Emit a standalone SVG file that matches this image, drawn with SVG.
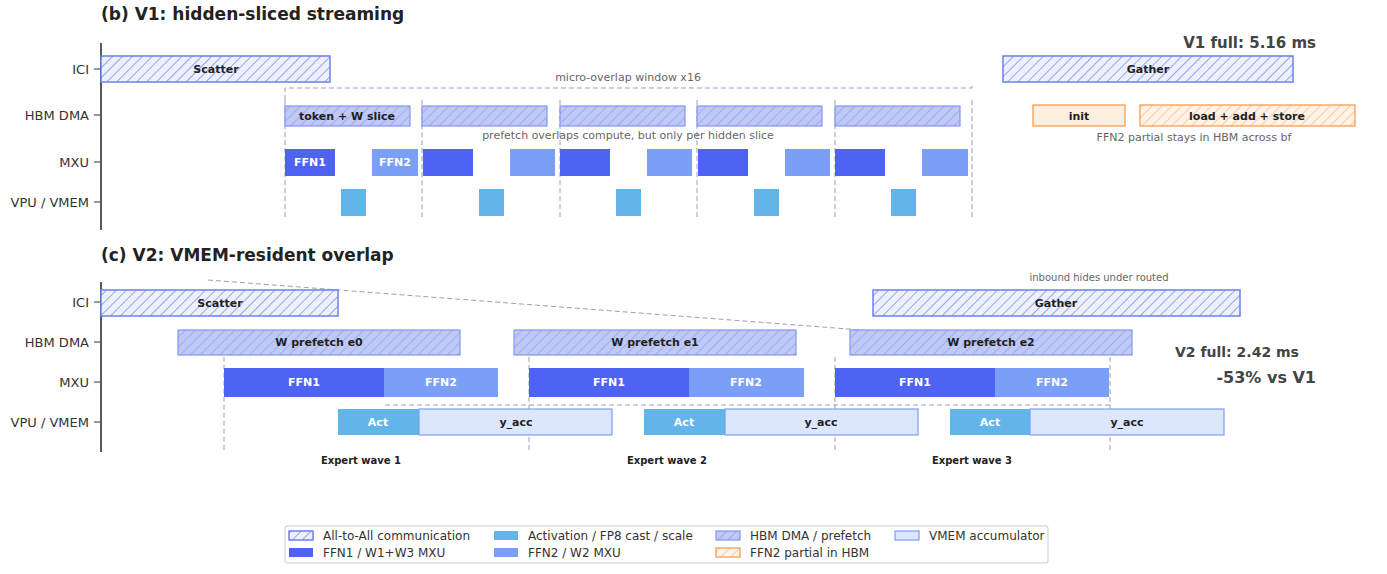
<svg xmlns="http://www.w3.org/2000/svg" width="1387" height="574" viewBox="0 0 1387 574">
<defs>
<pattern id="hI" patternUnits="userSpaceOnUse" width="7" height="7" patternTransform="rotate(45)"><rect width="7" height="7" fill="#eef1fd"/><line x1="0" y1="0" x2="0" y2="7" stroke="#6f84f2" stroke-width="1.4"/></pattern>
<pattern id="hH" patternUnits="userSpaceOnUse" width="7" height="7" patternTransform="rotate(45)"><rect width="7" height="7" fill="#bfc9f6"/><line x1="0" y1="0" x2="0" y2="7" stroke="#8a98ee" stroke-width="1.2"/></pattern>
<pattern id="hO" patternUnits="userSpaceOnUse" width="7" height="7" patternTransform="rotate(45)"><rect width="7" height="7" fill="#fef3e6"/><line x1="0" y1="0" x2="0" y2="7" stroke="#f5b277" stroke-width="1.2"/></pattern>
</defs>
<style>
text{font-family:"DejaVu Sans",sans-serif;}
.t{font-size:17px;font-weight:bold;fill:#222;}
.lab{font-size:13px;fill:#333;text-anchor:end;}
.b{font-size:11px;font-weight:bold;fill:#222;text-anchor:middle;}
.w{font-size:11px;font-weight:bold;fill:#fff;text-anchor:middle;}
.n{font-size:11px;fill:#666;text-anchor:middle;}
.ici{fill:url(#hI);stroke:#6a80f0;stroke-width:1.5;}
.hbm{fill:url(#hH);stroke:#8595ef;stroke-width:1.2;}
.f1{fill:#4f63f2;}
.f2{fill:#7a9ff5;}
.act{fill:#62b5e8;}
.vm{fill:#dce6fc;stroke:#7a9ff5;stroke-width:1.2;}
.or{fill:url(#hO);stroke:#f4a460;stroke-width:1.4;}
.orf{fill:#fdefdd;stroke:#f4a460;stroke-width:1.4;}
.d{stroke:#9aa0b8;stroke-width:1;stroke-dasharray:5,3;fill:none;}
.ax{stroke:#222;stroke-width:1.5;}
.tk{stroke:#555;stroke-width:1.2;}
.lg{font-size:12px;fill:#333;}
</style>
<text class="t" x="101" y="20">(b) V1: hidden-sliced streaming</text>
<g id="v1-axis">
<line class="ax" x1="101" y1="43" x2="101" y2="230"/>
<line class="tk" x1="94" y1="69" x2="101" y2="69"/><line class="tk" x1="94" y1="115" x2="101" y2="115"/><line class="tk" x1="94" y1="162" x2="101" y2="162"/><line class="tk" x1="94" y1="202" x2="101" y2="202"/>
<text class="lab" x="89" y="74">ICI</text><text class="lab" x="89" y="120">HBM DMA</text><text class="lab" x="89" y="167">MXU</text><text class="lab" x="89" y="207">VPU / VMEM</text>
</g>
<g id="connectors">
<polyline class="d" points="285,100 285,88 972,88 972,84"/>
<line class="d" x1="285" y1="100" x2="285" y2="220"/>
<line class="d" x1="422" y1="100" x2="422" y2="220"/>
<line class="d" x1="560" y1="100" x2="560" y2="220"/>
<line class="d" x1="697" y1="100" x2="697" y2="220"/>
<line class="d" x1="835" y1="100" x2="835" y2="220"/>
<line class="d" x1="972" y1="100" x2="972" y2="220"/>
<line class="d" x1="208" y1="280" x2="1110" y2="349"/>
<line class="d" x1="385" y1="405" x2="1110" y2="405"/>
<line class="d" x1="224" y1="357" x2="224" y2="450"/>
<line class="d" x1="529" y1="357" x2="529" y2="450"/>
<line class="d" x1="835" y1="357" x2="835" y2="450"/>
<line class="d" x1="1110" y1="357" x2="1110" y2="450"/>
</g>
<text class="n" x="628" y="81">micro-overlap window x16</text>
<g id="v1-scatter"><rect class="ici" x="101" y="56" width="229" height="26"/><text class="b" x="216" y="73">Scatter</text></g>
<g id="v1-gather"><rect class="ici" x="1003" y="56" width="290" height="26"/><text class="b" x="1148" y="73">Gather</text></g>
<g id="v1-hbm">
<rect class="hbm" x="285" y="106" width="125" height="20"/><text class="b" x="347" y="120">token + W slice</text>
<rect class="hbm" x="422" y="106" width="125" height="20"/>
<rect class="hbm" x="560" y="106" width="125" height="20"/>
<rect class="hbm" x="697" y="106" width="125" height="20"/>
<rect class="hbm" x="835" y="106" width="125" height="20"/>
</g>
<text class="n" x="628" y="139">prefetch overlaps compute, but only per hidden slice</text>
<g id="v1-mxu">
<rect class="f1" x="285" y="149" width="50" height="27"/><text class="w" x="310" y="166">FFN1</text>
<rect class="f2" x="372" y="149" width="46" height="27"/><text class="w" x="395" y="166">FFN2</text>
<rect class="f1" x="423" y="149" width="50" height="27"/><rect class="f2" x="510" y="149" width="45" height="27"/>
<rect class="f1" x="560" y="149" width="50" height="27"/><rect class="f2" x="647" y="149" width="45" height="27"/>
<rect class="f1" x="698" y="149" width="50" height="27"/><rect class="f2" x="785" y="149" width="45" height="27"/>
<rect class="f1" x="835" y="149" width="50" height="27"/><rect class="f2" x="922" y="149" width="46" height="27"/>
</g>
<g id="v1-vpu">
<rect class="act" x="341" y="189" width="25" height="27"/>
<rect class="act" x="479" y="189" width="25" height="27"/>
<rect class="act" x="616" y="189" width="25" height="27"/>
<rect class="act" x="754" y="189" width="25" height="27"/>
<rect class="act" x="891" y="189" width="25" height="27"/>
</g>
<g id="v1-hbm-partial">
<rect class="orf" x="1033" y="105" width="92" height="21"/><text class="b" x="1079" y="120">init</text>
<rect class="or" x="1140" y="105" width="215" height="21"/><text class="b" x="1247" y="120">load + add + store</text>
<text class="n" x="1194" y="141">FFN2 partial stays in HBM across bf</text>
</g>
<text x="1316" y="48" style="font-size:15px;font-weight:bold;fill:#444;text-anchor:end">V1 full: 5.16 ms</text>

<text class="t" x="101" y="261">(c) V2: VMEM-resident overlap</text>
<g id="v2-axis">
<line class="ax" x1="101" y1="282" x2="101" y2="452"/>
<line class="tk" x1="94" y1="302" x2="101" y2="302"/><line class="tk" x1="94" y1="342" x2="101" y2="342"/><line class="tk" x1="94" y1="382" x2="101" y2="382"/><line class="tk" x1="94" y1="422" x2="101" y2="422"/>
<text class="lab" x="89" y="307">ICI</text><text class="lab" x="89" y="347">HBM DMA</text><text class="lab" x="89" y="387">MXU</text><text class="lab" x="89" y="427">VPU / VMEM</text>
</g>
<text class="n" x="1099" y="281" style="font-size:10px">inbound hides under routed</text>
<g id="v2-scatter"><rect class="ici" x="101" y="290" width="237" height="26"/><text class="b" x="220" y="307">Scatter</text></g>
<g id="v2-gather"><rect class="ici" x="873" y="290" width="367" height="26"/><text class="b" x="1056" y="307">Gather</text></g>
<g id="v2-hbm">
<rect class="hbm" x="178" y="330" width="282" height="25"/><text class="b" x="319" y="346">W prefetch e0</text>
<rect class="hbm" x="514" y="330" width="282" height="25"/><text class="b" x="655" y="346">W prefetch e1</text>
<rect class="hbm" x="850" y="330" width="282" height="25"/><text class="b" x="991" y="346">W prefetch e2</text>
</g>
<g id="v2-mxu">
<rect class="f1" x="224" y="368" width="160" height="29"/><text class="w" x="304" y="386">FFN1</text>
<rect class="f2" x="384" y="368" width="114" height="29"/><text class="w" x="441" y="386">FFN2</text>
<rect class="f1" x="529" y="368" width="160" height="29"/><text class="w" x="609" y="386">FFN1</text>
<rect class="f2" x="689" y="368" width="115" height="29"/><text class="w" x="746" y="386">FFN2</text>
<rect class="f1" x="835" y="368" width="160" height="29"/><text class="w" x="915" y="386">FFN1</text>
<rect class="f2" x="995" y="368" width="114" height="29"/><text class="w" x="1052" y="386">FFN2</text>
</g>
<g id="v2-vpu">
<rect class="act" x="338" y="409" width="81" height="26"/><text class="w" x="378" y="426">Act</text>
<rect class="vm" x="419" y="409" width="193" height="26"/><text class="b" x="516" y="426">y_acc</text>
<rect class="act" x="644" y="409" width="81" height="26"/><text class="w" x="684" y="426">Act</text>
<rect class="vm" x="725" y="409" width="193" height="26"/><text class="b" x="821" y="426">y_acc</text>
<rect class="act" x="950" y="409" width="80" height="26"/><text class="w" x="990" y="426">Act</text>
<rect class="vm" x="1030" y="409" width="194" height="26"/><text class="b" x="1127" y="426">y_acc</text>
</g>
<g id="waves">
<text class="b" x="361" y="464" style="font-size:10px">Expert wave 1</text>
<text class="b" x="667" y="464" style="font-size:10px">Expert wave 2</text>
<text class="b" x="972" y="464" style="font-size:10px">Expert wave 3</text>
</g>
<text x="1175" y="357" style="font-size:14px;font-weight:bold;fill:#444">V2 full: 2.42 ms</text>
<text x="1316" y="383" style="font-size:16px;font-weight:bold;fill:#444;text-anchor:end">-53% vs V1</text>

<g id="legend">
<rect x="285" y="526" width="763" height="37" fill="#fff" stroke="#ccc" rx="2"/>
<rect class="ici" x="289" y="531" width="24" height="9"/><text class="lg" x="323" y="540">All-to-All communication</text>
<rect class="f1" x="289" y="548" width="24" height="9"/><text class="lg" x="323" y="557">FFN1 / W1+W3 MXU</text>
<rect class="act" x="494" y="531" width="24" height="9"/><text class="lg" x="528" y="540">Activation / FP8 cast / scale</text>
<rect class="f2" x="494" y="548" width="24" height="9"/><text class="lg" x="528" y="557">FFN2 / W2 MXU</text>
<rect class="hbm" x="716" y="531" width="24" height="9"/><text class="lg" x="750" y="540">HBM DMA / prefetch</text>
<rect class="or" x="716" y="548" width="24" height="9"/><text class="lg" x="750" y="557">FFN2 partial in HBM</text>
<rect class="vm" x="895" y="531" width="24" height="9"/><text class="lg" x="929" y="540">VMEM accumulator</text>
</g>
</svg>
